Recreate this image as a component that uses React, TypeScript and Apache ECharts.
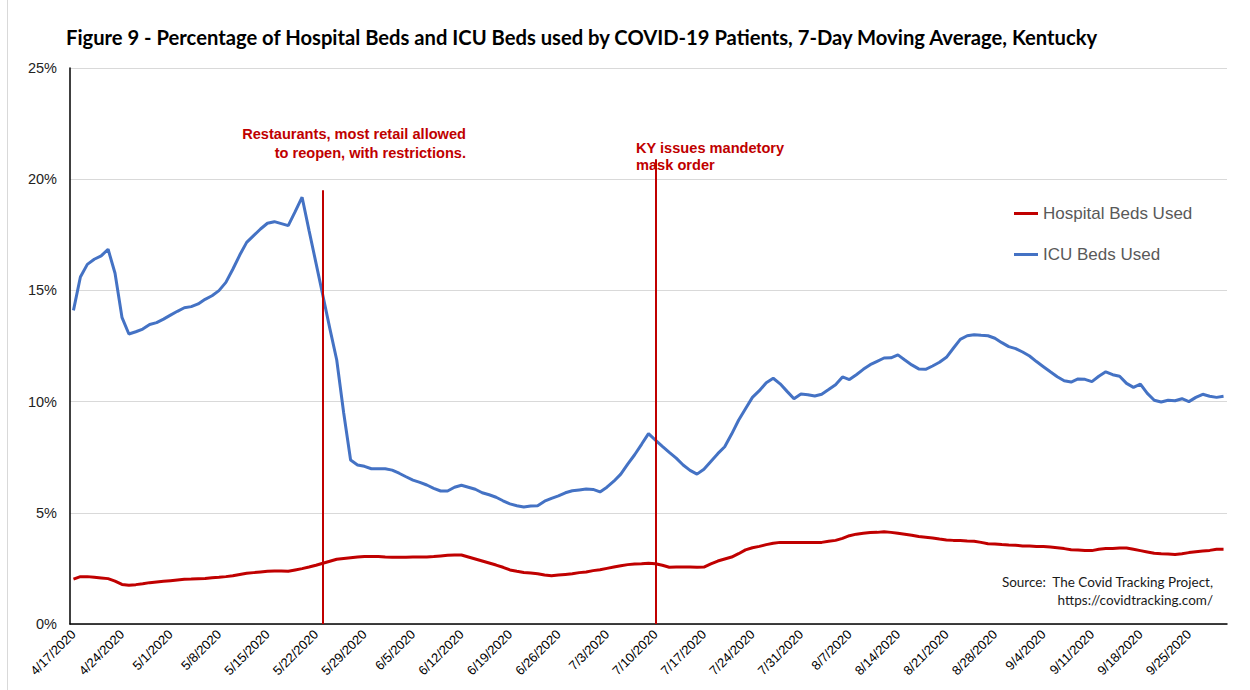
import React, { useEffect, useRef } from "react";
import * as echarts from "echarts";

const categories = [
  "4/17/2020","4/18/2020","4/19/2020","4/20/2020","4/21/2020","4/22/2020","4/23/2020","4/24/2020","4/25/2020","4/26/2020","4/27/2020","4/28/2020","4/29/2020","4/30/2020",
  "5/1/2020","5/2/2020","5/3/2020","5/4/2020","5/5/2020","5/6/2020","5/7/2020","5/8/2020","5/9/2020","5/10/2020","5/11/2020","5/12/2020","5/13/2020","5/14/2020","5/15/2020","5/16/2020","5/17/2020","5/18/2020","5/19/2020","5/20/2020","5/21/2020","5/22/2020","5/23/2020","5/24/2020","5/25/2020","5/26/2020","5/27/2020","5/28/2020","5/29/2020","5/30/2020","5/31/2020",
  "6/1/2020","6/2/2020","6/3/2020","6/4/2020","6/5/2020","6/6/2020","6/7/2020","6/8/2020","6/9/2020","6/10/2020","6/11/2020","6/12/2020","6/13/2020","6/14/2020","6/15/2020","6/16/2020","6/17/2020","6/18/2020","6/19/2020","6/20/2020","6/21/2020","6/22/2020","6/23/2020","6/24/2020","6/25/2020","6/26/2020","6/27/2020","6/28/2020","6/29/2020","6/30/2020",
  "7/1/2020","7/2/2020","7/3/2020","7/4/2020","7/5/2020","7/6/2020","7/7/2020","7/8/2020","7/9/2020","7/10/2020","7/11/2020","7/12/2020","7/13/2020","7/14/2020","7/15/2020","7/16/2020","7/17/2020","7/18/2020","7/19/2020","7/20/2020","7/21/2020","7/22/2020","7/23/2020","7/24/2020","7/25/2020","7/26/2020","7/27/2020","7/28/2020","7/29/2020","7/30/2020","7/31/2020",
  "8/1/2020","8/2/2020","8/3/2020","8/4/2020","8/5/2020","8/6/2020","8/7/2020","8/8/2020","8/9/2020","8/10/2020","8/11/2020","8/12/2020","8/13/2020","8/14/2020","8/15/2020","8/16/2020","8/17/2020","8/18/2020","8/19/2020","8/20/2020","8/21/2020","8/22/2020","8/23/2020","8/24/2020","8/25/2020","8/26/2020","8/27/2020","8/28/2020","8/29/2020","8/30/2020","8/31/2020",
  "9/1/2020","9/2/2020","9/3/2020","9/4/2020","9/5/2020","9/6/2020","9/7/2020","9/8/2020","9/9/2020","9/10/2020","9/11/2020","9/12/2020","9/13/2020","9/14/2020","9/15/2020","9/16/2020","9/17/2020","9/18/2020","9/19/2020","9/20/2020","9/21/2020","9/22/2020","9/23/2020","9/24/2020","9/25/2020","9/26/2020","9/27/2020","9/28/2020","9/29/2020","9/30/2020"
];

const hospitalBedsUsed = [
  2.02, 2.13, 2.13, 2.1, 2.07, 2.04, 1.93, 1.78, 1.74, 1.77, 1.81, 1.86, 1.89, 1.92, 1.95, 1.98, 2.01, 2.02, 2.04, 2.05,
  2.08, 2.1, 2.13, 2.17, 2.23, 2.28, 2.31, 2.34, 2.37, 2.38, 2.38, 2.37, 2.43, 2.49, 2.56, 2.64, 2.73, 2.82, 2.91, 2.95,
  2.98, 3.01, 3.04, 3.04, 3.04, 3.01, 3.0, 3.0, 3.0, 3.01, 3.01, 3.01, 3.03, 3.06, 3.09, 3.1, 3.1,
  3.01, 2.92, 2.83, 2.74, 2.65, 2.55, 2.43, 2.37, 2.32, 2.29, 2.26, 2.2, 2.17, 2.2, 2.23, 2.26, 2.31, 2.34, 2.4, 2.44,
  2.5, 2.56, 2.62, 2.67, 2.7, 2.71, 2.73, 2.71, 2.64, 2.55, 2.56, 2.56, 2.56, 2.55, 2.56, 2.7, 2.83, 2.92, 3.01, 3.16,
  3.33, 3.43, 3.49, 3.57, 3.63, 3.67, 3.67, 3.66, 3.66, 3.66, 3.66, 3.67, 3.72, 3.76, 3.85, 3.97,
  4.04, 4.08, 4.11, 4.12, 4.15, 4.12, 4.08, 4.04, 3.99, 3.93, 3.9, 3.87, 3.82, 3.78, 3.76, 3.75, 3.73, 3.72, 3.67, 3.61,
  3.6, 3.57, 3.55, 3.54, 3.51, 3.51, 3.49, 3.49, 3.46, 3.43, 3.39, 3.34, 3.33, 3.31, 3.3, 3.36, 3.39, 3.4, 3.42, 3.42,
  3.36, 3.3, 3.24, 3.18, 3.16, 3.15, 3.12, 3.16, 3.21, 3.25, 3.28, 3.31, 3.36, 3.36
];

const icuBedsUsed = [
  14.1, 15.6, 16.17, 16.4, 16.55, 16.85, 15.77, 13.79, 13.04, 13.14, 13.26, 13.47, 13.55, 13.71, 13.89, 14.06, 14.22, 14.27, 14.39, 14.6,
  14.76, 14.99, 15.36, 15.95, 16.59, 17.16, 17.46, 17.76, 18.02, 18.09, 18.0, 17.91, 18.54, 19.19,
  17.7, 16.24, 14.77, 13.29, 11.87, 9.5, 7.37,
  7.15, 7.09, 6.98, 6.98, 6.98, 6.92, 6.78, 6.62, 6.47, 6.37, 6.25, 6.1, 5.98, 5.98, 6.15, 6.24, 6.15, 6.06, 5.9, 5.81,
  5.7, 5.54, 5.4, 5.32, 5.26, 5.31, 5.32, 5.52, 5.65, 5.76, 5.9, 5.99, 6.03, 6.07,
  6.05, 5.94, 6.15, 6.42, 6.74, 7.19, 7.61, 8.08, 8.56, 8.27, 7.99, 7.72, 7.46, 7.15, 6.91, 6.74, 6.96, 7.31, 7.66, 7.97,
  8.54, 9.16, 9.68, 10.19, 10.49, 10.85, 11.05, 10.8, 10.46, 10.13, 10.34, 10.31, 10.25, 10.33, 10.54, 10.76, 11.11, 10.99, 11.21, 11.45,
  11.66, 11.81, 11.96, 11.97, 12.1, 11.87,
  11.65, 11.47, 11.45, 11.6, 11.77, 11.99, 12.4, 12.8, 12.96, 13.01, 12.98, 12.96, 12.85, 12.65, 12.47, 12.38, 12.23, 12.05, 11.8, 11.57,
  11.34, 11.12, 10.94, 10.88, 11.02, 11.0, 10.9, 11.14, 11.34, 11.21, 11.14, 10.82, 10.64, 10.79, 10.37, 10.06, 9.98, 10.06, 10.04, 10.13,
  10.0, 10.19, 10.33, 10.24, 10.19, 10.24
];

const seriesNames = ["Hospital Beds Used", "ICU Beds Used"];
const yTicks = [0, 5, 10, 15, 20, 25];

// event markers: category index and top value of the line
const eventIndices = [36, 84];
const eventTops = [19.5, 20.9];

const titleText =
  "Figure 9 - Percentage of Hospital Beds and ICU Beds used by COVID-19 Patients, 7-Day Moving Average, Kentucky";
const annotation1 = ["Restaurants, most retail allowed", "to reopen, with restrictions."];
const annotation2 = ["KY issues mandetory", "mask order"];
const sourceLines = ["Source:  The Covid Tracking Project,", "https://covidtracking.com/"];

const RED = "#c00000";
const BLUE = "#4472c4";

export default function App() {
  const ref = useRef<HTMLDivElement>(null);

  useEffect(() => {
    if (!ref.current) return;
    const chart = echarts.init(ref.current, undefined, { renderer: "svg" });
    const arial = "'Liberation Sans', Arial, sans-serif";
    const calibri = "Lato, 'Open Sans', sans-serif";
    const annoFont = `bold 14.6px ${arial}`;

    chart.setOption({
      animation: false,
      backgroundColor: "#ffffff",
      title: {
        text: titleText,
        left: 66,
        top: 27,
        padding: 0,
        textStyle: { fontFamily: calibri, fontWeight: "bold", fontSize: 20.2, color: "#000000" },
      },
      legend: {
        data: seriesNames,
        orient: "vertical",
        left: 1014,
        top: 205,
        padding: 0,
        icon: "rect",
        itemWidth: 24,
        itemHeight: 3,
        itemGap: 24,
        textStyle: { fontFamily: arial, fontSize: 17, color: "#595959" },
      },
      grid: { left: 70, right: 23, top: 68, bottom: 66, containLabel: false },
      xAxis: {
        type: "category",
        data: categories,
        boundaryGap: true,
        axisLine: { show: true, lineStyle: { color: "#000000", width: 1.5 } },
        axisTick: { show: false },
        axisLabel: {
          interval: 6,
          rotate: 45,
          margin: 8,
          fontFamily: arial,
          fontSize: 13,
          color: "#000000",
        },
        splitLine: { show: false },
      },
      yAxis: {
        type: "value",
        min: yTicks[0],
        max: yTicks[yTicks.length - 1],
        interval: 5,
        axisLine: { show: true, lineStyle: { color: "#000000", width: 1.5 } },
        axisTick: { show: false },
        axisLabel: {
          formatter: "{value}%",
          fontFamily: arial,
          fontSize: 14.5,
          color: "#222222",
          margin: 13,
        },
        splitLine: { show: true, lineStyle: { color: "#d9d9d9", width: 1.2 } },
      },
      series: [
        {
          name: seriesNames[0],
          type: "line",
          data: hospitalBedsUsed,
          showSymbol: false,
          symbol: "none",
          lineStyle: { color: RED, width: 3 },
          itemStyle: { color: RED },
          z: 3,
          markLine: {
            silent: true,
            symbol: ["none", "none"],
            label: { show: false },
            lineStyle: { color: RED, width: 2, type: "solid" },
            data: eventIndices.map((idx, i) => [
              { coord: [idx, 0] },
              { coord: [idx, eventTops[i]] },
            ]),
          },
        },
        {
          name: seriesNames[1],
          type: "line",
          data: icuBedsUsed,
          showSymbol: false,
          symbol: "none",
          lineStyle: { color: BLUE, width: 3 },
          itemStyle: { color: BLUE },
          z: 2,
        },
      ],
      graphic: [
        {
          type: "line",
          shape: { x1: 7.5, y1: 0, x2: 7.5, y2: 690 },
          style: { stroke: "#d9d9d9", lineWidth: 1 },
          silent: true,
        },
        {
          type: "text",
          x: 466,
          y: 134,
          style: { text: annotation1[0], font: annoFont, fill: RED, align: "right", verticalAlign: "middle" },
        },
        {
          type: "text",
          x: 466,
          y: 153,
          style: { text: annotation1[1], font: annoFont, fill: RED, align: "right", verticalAlign: "middle" },
        },
        {
          type: "text",
          x: 636,
          y: 148,
          style: { text: annotation2[0], font: annoFont, fill: RED, align: "left", verticalAlign: "middle" },
        },
        {
          type: "text",
          x: 636,
          y: 165,
          style: { text: annotation2[1], font: annoFont, fill: RED, align: "left", verticalAlign: "middle" },
        },
        {
          type: "text",
          x: 1213,
          y: 582,
          style: {
            text: sourceLines[0],
            font: `13.5px ${calibri}`,
            fill: "#1a1a1a",
            align: "right",
            verticalAlign: "middle",
          },
        },
        {
          type: "text",
          x: 1213,
          y: 600,
          style: {
            text: sourceLines[1],
            font: `13.5px ${calibri}`,
            fill: "#1a1a1a",
            align: "right",
            verticalAlign: "middle",
          },
        },
      ],
    });

    return () => {
      chart.dispose();
    };
  }, []);

  return (
    <div
      ref={ref}
      style={{ position: "absolute", left: 0, top: 0, width: 1250, height: 690, background: "#fff" }}
    />
  );
}
